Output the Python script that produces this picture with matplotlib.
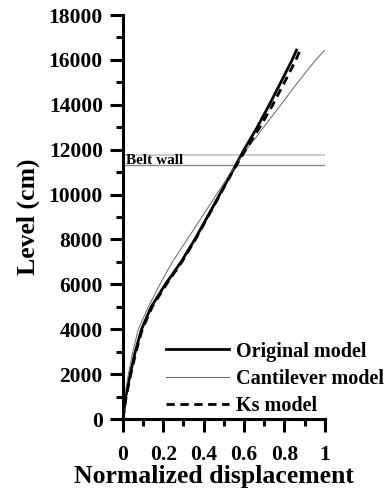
import matplotlib.pyplot as plt
from matplotlib.ticker import MultipleLocator

# storey level (cm) and normalized lateral displacement for each model
level = [0, 500, 1000, 2000, 3000, 4000, 5000, 6000, 7000, 8000, 9000,
         10000, 11000, 12000, 13000, 14000, 15000, 16000, 16440]
original = [0, 0.007, 0.014, 0.036, 0.061, 0.092, 0.140, 0.210, 0.288, 0.356,
            0.418, 0.479, 0.540, 0.600, 0.665, 0.725, 0.782, 0.838, 0.860]
cantilever = [0, 0.004, 0.009, 0.027, 0.049, 0.076, 0.126, 0.183, 0.245, 0.318,
              0.391, 0.463, 0.536, 0.612, 0.697, 0.782, 0.866, 0.955, 1.000]
ks = [0, 0.008, 0.016, 0.039, 0.065, 0.096, 0.145, 0.215, 0.292, 0.359,
      0.420, 0.481, 0.542, 0.608, 0.678, 0.742, 0.800, 0.857, 0.878]

belt_wall = [11300, 11760]

plt.rcParams['font.family'] = 'Liberation Serif'

fig = plt.figure(figsize=(3.89, 4.93), dpi=100)
ax = fig.add_axes([0.316, 0.150, 0.519, 0.8195])

ax.axhline(belt_wall[1], color='#c4c4c4', lw=1.2, zorder=1)
ax.axhline(belt_wall[0], color='#8a8a8a', lw=1.0, zorder=1)
ax.text(0.015, 11540, 'Belt wall', fontsize=11, fontweight='bold',
        va='center', ha='left')

ax.plot(original, level, color='black', lw=2.0, label='Original model')
ax.plot(cantilever, level, color='#666666', lw=0.7, label='Cantilever model')
ax.plot(ks, level, color='black', lw=2.0, ls=(0, (3, 2)), label='Ks model')

ax.set_xlim(0, 1)
ax.set_ylim(0, 18000)
ax.xaxis.set_minor_locator(MultipleLocator(0.1))
ax.yaxis.set_major_locator(MultipleLocator(2000))
ax.yaxis.set_minor_locator(MultipleLocator(1000))
ax.set_xticks([0, 0.2, 0.4, 0.6, 0.8, 1])
ax.set_xticklabels(['0', '0.2', '0.4', '0.6', '0.8', '1'])

for side in ['top', 'right']:
    ax.spines[side].set_visible(False)
for side in ['left', 'bottom']:
    ax.spines[side].set_linewidth(2.2)

ax.tick_params(which='major', direction='out', length=9.5, width=2.2, pad=5,
               labelsize=15.5)
ax.tick_params(axis='x', which='major', pad=9)
ax.tick_params(which='minor', direction='out', length=5, width=2.2)
for lab in ax.get_xticklabels() + ax.get_yticklabels():
    lab.set_fontweight('bold')

ax.set_xlabel('Normalized displacement', fontsize=18.5, fontweight='bold')
ax.xaxis.set_label_coords(0.45, -0.113)
ax.set_ylabel('Level (cm)', fontsize=18.5, fontweight='bold', labelpad=6)

ax.legend(loc='lower left', bbox_to_anchor=(0.2, 0.0), frameon=False,
          prop={'weight': 'bold', 'size': 14.5}, handlelength=3.1,
          handletextpad=0.35, labelspacing=0.36, borderpad=0, borderaxespad=0.15)

fig.savefig('out.png', dpi=100)
